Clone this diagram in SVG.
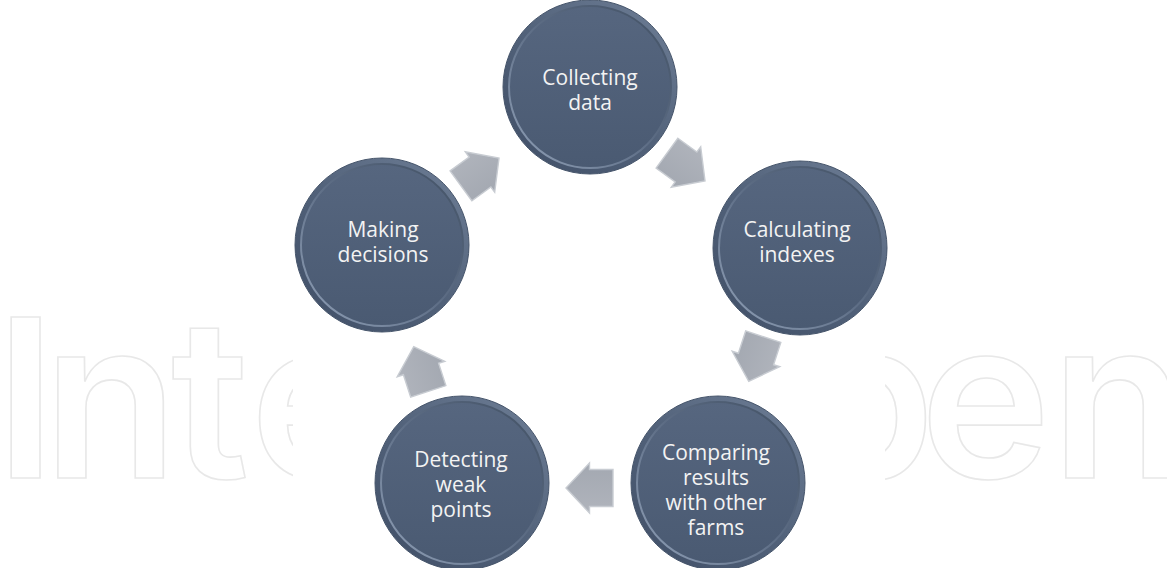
<svg xmlns="http://www.w3.org/2000/svg" xmlns:xlink="http://www.w3.org/1999/xlink" width="1167" height="568" viewBox="0 0 1167 568">
  <style>
    .wm { font-family: Inter, "Open Sans", sans-serif; font-weight: 600; font-size: 221px; fill: none; stroke: #e8e8e8; stroke-width: 1.6; }
    .rim { fill: url(#rimGrad); stroke: #46556b; stroke-width: 1; }
    .face { fill: url(#faceGrad); stroke: url(#bevelGrad); stroke-width: 2; }
    .lbl { font-family: "Open Sans", "Liberation Sans", sans-serif; font-size: 21px; fill: #f3f3f3; text-anchor: middle; }
    .arrow { fill: url(#arrowGrad); stroke: #c8ccd2; stroke-width: 1.4; stroke-linejoin: miter; }
  </style>
  <defs>
    <linearGradient id="rimGrad" x1="0.85" y1="0.1" x2="0.15" y2="0.9">
      <stop offset="0" stop-color="#687890"/>
      <stop offset="0.5" stop-color="#52627a"/>
      <stop offset="1" stop-color="#44536b"/>
    </linearGradient>
    <linearGradient id="faceGrad" x1="0" y1="0" x2="0" y2="1">
      <stop offset="0" stop-color="#56667f"/>
      <stop offset="1" stop-color="#4a5a72"/>
    </linearGradient>
    <linearGradient id="bevelGrad" x1="0.1" y1="0.9" x2="0.9" y2="0.1">
      <stop offset="0" stop-color="#8797ae"/>
      <stop offset="0.5" stop-color="#5e6e86"/>
      <stop offset="1" stop-color="#465569"/>
    </linearGradient>
    <linearGradient id="arrowGrad" x1="0" y1="0" x2="0" y2="1">
      <stop offset="0" stop-color="#b0b4bc"/>
      <stop offset="1" stop-color="#a3a8b1"/>
    </linearGradient>
    <polygon id="blockArrow" points="-23.5,-18.5 0,-18.5 0,-25 23.5,0 0,25 0,18.5 -23.5,18.5"/>
    <g id="disc">
      <circle class="rim" r="87"/>
      <circle class="face" r="81"/>
    </g>
  </defs>

  <rect width="1167" height="568" fill="#ffffff"/>

  <!-- faint outlined publisher mark behind the cycle -->
  <g id="watermark">
    <text class="wm" y="478" x="-5 43 171 250">Intech</text>
    <text class="wm" y="478" x="640 797 920 1051">Open</text>
    <rect x="293" y="0" width="592" height="568" fill="#ffffff"/>
  </g>

  <!-- block arrows between the steps, tangent to the cycle -->
  <g id="connectors">
    <use xlink:href="#blockArrow" class="arrow" transform="translate(686,167) rotate(36)"/>
    <use xlink:href="#blockArrow" class="arrow" transform="translate(756,359) rotate(108)"/>
    <use xlink:href="#blockArrow" class="arrow" transform="translate(589.5,488) rotate(180)"/>
    <use xlink:href="#blockArrow" class="arrow" transform="translate(421,369) rotate(252)"/>
    <use xlink:href="#blockArrow" class="arrow" transform="translate(480,172) rotate(324)"/>
  </g>

  <g id="collecting-data">
    <use xlink:href="#disc" transform="translate(590,87)"/>
    <text class="lbl"><tspan x="590" y="85">Collecting</tspan><tspan x="590" y="110">data</tspan></text>
  </g>

  <g id="calculating-indexes">
    <use xlink:href="#disc" transform="translate(800,248)"/>
    <text class="lbl"><tspan x="797" y="237">Calculating</tspan><tspan x="797" y="262">indexes</tspan></text>
  </g>

  <g id="comparing-results">
    <use xlink:href="#disc" transform="translate(718,483)"/>
    <text class="lbl"><tspan x="716" y="460">Comparing</tspan><tspan x="716" y="485">results</tspan><tspan x="716" y="510">with other</tspan><tspan x="716" y="535">farms</tspan></text>
  </g>

  <g id="detecting-weak-points">
    <use xlink:href="#disc" transform="translate(462,483)"/>
    <text class="lbl"><tspan x="461" y="467">Detecting</tspan><tspan x="461" y="492">weak</tspan><tspan x="461" y="517">points</tspan></text>
  </g>

  <g id="making-decisions">
    <use xlink:href="#disc" transform="translate(382,245)"/>
    <text class="lbl"><tspan x="383" y="237">Making</tspan><tspan x="383" y="262">decisions</tspan></text>
  </g>
</svg>
